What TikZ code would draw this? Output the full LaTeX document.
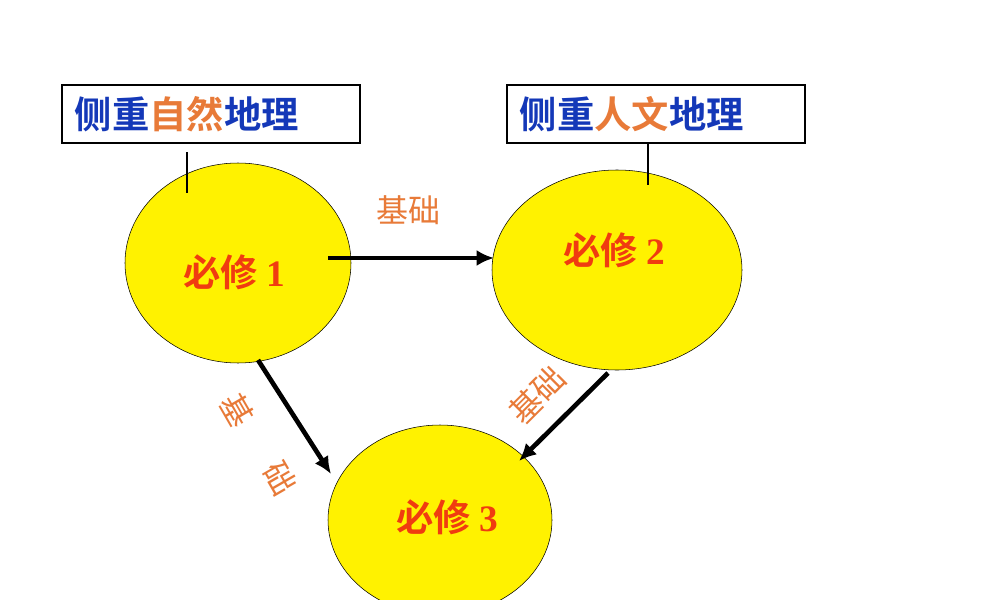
\documentclass[tikz,border=0pt]{standalone}
\usepackage{fontspec}
\newfontfamily\cjk{Noto Sans CJK SC}
\newfontfamily\cjkb{Noto Sans CJK SC Bold}
\newfontfamily\serifb{Liberation Serif}
\definecolor{lblred}{HTML}{F03C10}
\definecolor{boxblue}{HTML}{1438B8}
\definecolor{orng}{HTML}{E87A38}
\begin{document}
\begin{tikzpicture}[x=0.75pt,y=-0.75pt,
  blob/.style={draw=black,fill=yellow,ellipse,inner sep=0pt},
  lbl/.style={font=\fontsize{28}{28}\cjkb\selectfont,text=lblred},
  box/.style={draw=black,line width=2pt,minimum width=223.5pt,minimum height=43.5pt,inner sep=0pt},
  boxt/.style={font=\fontsize{28}{28}\cjkb\selectfont,text=boxblue},
  arr/.style={line width=3.5pt,-{Latex[length=13pt,width=12pt]}},
  base/.style={font=\fontsize{24}{24}\cjk\selectfont,text=orng}]
\usetikzlibrary{arrows.meta,shapes.geometric}
\path[use as bounding box] (0,0) rectangle (1000,600);
\clip (0,0) rectangle (1000,600);
\fill[white] (0,0) rectangle (1000,600);
\node[blob,minimum width=169.5pt,minimum height=150pt] (e1) at (238,263) {};
\node[blob,minimum width=187.5pt,minimum height=150pt] (e2) at (617,270) {};
\node[blob,minimum width=168pt,minimum height=142.5pt] (e3) at (440,520) {};
\node[lbl] (t1) at (234,272) {必修 {\serifb\bfseries 1}};
\node[lbl] (t2) at (614,250) {必修 {\serifb\bfseries 2}};
\node[lbl] (t3) at (447,517) {必修 {\serifb\bfseries 3}};
\node[box] (b1) at (211,114) {};
\node[box] (b2) at (656,114) {};
\node[boxt,anchor=west] (bt1) at (70,114) {侧重\textcolor{orng}{自然}地理};
\node[boxt,anchor=west] (bt2) at (515,114) {侧重\textcolor{orng}{人文}地理};
\coordinate (c1a) at (187,152); \coordinate (c1b) at (187,193);
\coordinate (c2a) at (648,143); \coordinate (c2b) at (648,185);
\draw[line width=2pt] (c1a) -- (c1b);
\draw[line width=2pt] (c2a) -- (c2b);
\coordinate (a1s) at (328,258); \coordinate (a1e) at (494,258);
\coordinate (a2s) at (258,360); \coordinate (a2e) at (331,474);
\coordinate (a3s) at (608,373); \coordinate (a3e) at (519,461);
\draw[arr] (a1s) -- (a1e);
\draw[arr] (a2s) -- (a2e);
\draw[arr] (a3s) -- (a3e);
\node[base] (l1) at (408,210) {基础};
\node[base,rotate=-60] (l2a) at (237,410) {基};
\node[base,rotate=-60] (l2b) at (280,478) {础};
\node[base,rotate=45,inner sep=0pt] (l3) at (537,395) {基础};
\end{tikzpicture}
\end{document}
